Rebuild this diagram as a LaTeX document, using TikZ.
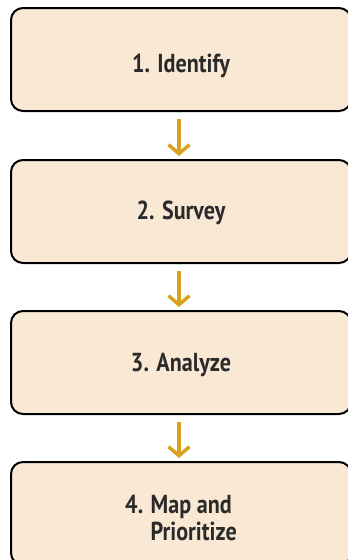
\documentclass[tikz,border=0pt]{standalone}
\usepackage{fontspec}
\newfontfamily\boxfont{PT Sans}[FakeStretch=0.85]
\usetikzlibrary{arrows.meta}
\definecolor{boxfill}{HTML}{F8E8D4}
\definecolor{arrgold}{HTML}{D8A21E}
\definecolor{txt}{HTML}{2A2A2A}
\tikzset{
  stepbox/.style={draw=black, line width=2pt, fill=boxfill, rounded corners=12pt,
    minimum width=340pt, minimum height=103pt, inner sep=0pt,
    font=\boxfont\bfseries\fontsize{26}{26.7}\selectfont, text=txt, text depth=4pt},
  flowarr/.style={draw=arrgold, line width=3.5pt,
    -{Straight Barb[length=9pt,width=21pt,line width=3.5pt]},
    shorten <=7pt, shorten >=3pt}
}
\begin{document}
\begin{tikzpicture}[x=1pt,y=-1pt]
\useasboundingbox (0,0) rectangle (348,560);
\node[stepbox, text height=29pt] (b1) at (181,59.5) {1. Identify};
\node[stepbox, text height=19pt] (b2) at (181,211.5) {2. Survey};
\node[stepbox, text height=21pt] (b3) at (181,362.5) {3. Analyze};
\node[stepbox, align=left, text height=58pt] (b4) at (181,513.5) {4. Map and\\\phantom{4. }Prioritize};
\draw[flowarr] ([xshift=-2pt]b1.south) -- ([xshift=-2pt]b2.north);
\draw[flowarr] ([xshift=-2pt]b2.south) -- ([xshift=-2pt]b3.north);
\draw[flowarr] ([xshift=-2pt]b3.south) -- ([xshift=-2pt]b4.north);
\end{tikzpicture}
\end{document}
